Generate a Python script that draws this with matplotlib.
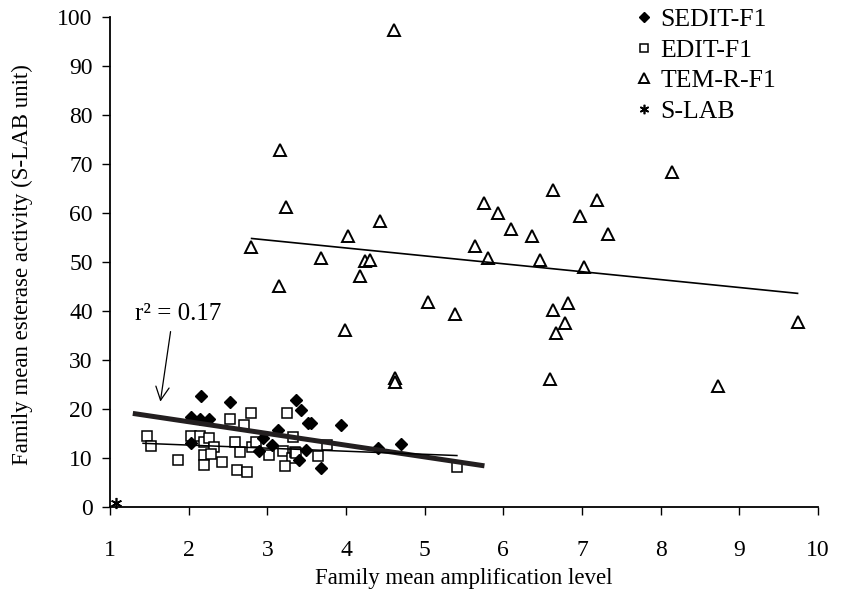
import numpy as np
import matplotlib.pyplot as plt

plt.rcParams["font.family"] = ["Liberation Serif", "DejaVu Serif"]

# ---------- data ----------
sedit_x = [2.16, 2.53, 3.37, 3.43, 3.52, 2.03, 2.15, 2.26, 3.14, 2.95, 3.06, 2.89,
           2.03, 3.40, 3.49, 3.56, 3.94, 3.68, 4.41, 4.70]
sedit_y = [22.7, 21.5, 21.8, 19.8, 17.2, 18.3, 17.9, 17.9, 15.7, 14.0, 12.7, 11.5,
           13.0, 9.6, 11.6, 17.1, 16.7, 7.9, 12.0, 12.9]

edit_x = [1.47, 1.52, 1.87, 2.03, 2.15, 2.19, 2.26, 2.32, 2.19, 2.20, 2.29, 2.43,
          2.53, 2.70, 2.79, 2.59, 2.65, 2.61, 2.74, 2.81, 2.86, 3.02, 3.20, 3.25,
          3.33, 3.31, 3.23, 3.35, 3.37, 3.65, 3.76, 5.41]
edit_y = [14.5, 12.4, 9.6, 14.5, 14.5, 13.3, 14.0, 12.2, 10.6, 8.6, 10.8, 9.2,
          17.9, 16.7, 19.2, 13.3, 11.3, 7.6, 7.2, 12.3, 13.3, 10.6, 11.5, 19.2,
          14.3, 9.9, 8.4, 11.3, 11.1, 10.4, 12.7, 8.1]

temr_x = [4.61, 3.16, 3.24, 4.43, 4.03, 2.79, 3.68, 4.24, 4.31, 4.18, 3.15, 5.75,
          5.93, 6.10, 5.64, 5.80, 5.04, 5.39, 3.99, 8.14, 6.63, 7.19, 6.98, 6.36,
          7.33, 6.46, 7.02, 6.82, 6.63, 6.78, 6.67, 6.59, 8.73, 9.74, 4.62, 4.62]
temr_y = [97.3, 72.9, 61.3, 58.4, 55.4, 53.1, 50.9, 50.2, 50.5, 47.1, 45.2, 62.1,
          60.1, 56.7, 53.3, 50.9, 41.8, 39.3, 36.1, 68.3, 64.7, 62.7, 59.4, 55.4,
          55.7, 50.4, 49.0, 41.6, 40.2, 37.6, 35.6, 26.1, 24.7, 37.8, 26.3, 25.6]

slab_x = [1.08]
slab_y = [0.9]

# trend lines (end points)
sedit_trend_x = [1.29, 5.76]
sedit_trend_y = [19.1, 8.4]
edit_trend_x = [1.42, 5.41]
edit_trend_y = [13.0, 10.5]
temr_trend_x = [2.80, 9.74]
temr_trend_y = [54.8, 43.6]

# r² annotation: text position, arrow start and tip
r2_text = "r² = 0.17"
r2_text_xy = (1.87, 39.3)
r2_arrow_from = (1.77, 35.8)
r2_arrow_to = (1.64, 21.5)

x_ticks = list(range(1, 11))
y_ticks = list(range(0, 101, 10))

# ---------- plotting ----------
fig = plt.figure(figsize=(8.43, 6.05), dpi=100)
ax = fig.add_axes([110 / 843, 98 / 605, 708 / 843, 490 / 605])

ax.plot(sedit_x, sedit_y, linestyle="none", marker="D", markersize=6,
        color="black", label="SEDIT-F1", zorder=3)
ax.plot(edit_x, edit_y, linestyle="none", marker="s", markersize=7.2,
        markerfacecolor="white", markeredgecolor="black", markeredgewidth=1.1,
        label="EDIT-F1", zorder=2)
ax.plot(temr_x, temr_y, linestyle="none", marker="^", markersize=8,
        markerfacecolor="white", markeredgecolor="black", markeredgewidth=1.4,
        label="TEM-R-F1", zorder=3)
ax.plot(slab_x, slab_y, linestyle="none", marker=(6, 2, 0), markersize=8,
        color="black", markeredgewidth=1.2, label="S-LAB", zorder=3,
        clip_on=False)

ax.plot(sedit_trend_x, sedit_trend_y, color="#231f20", lw=3.6, zorder=4,
        solid_capstyle="butt")
ax.plot(edit_trend_x, edit_trend_y, color="black", lw=1.1, zorder=4)
ax.plot(temr_trend_x, temr_trend_y, color="black", lw=1.2, zorder=4)

ax.text(*r2_text_xy, r2_text, fontsize=18, ha="center", va="center")
ax.annotate("", xy=r2_arrow_to, xytext=r2_arrow_from,
            arrowprops=dict(arrowstyle="->", color="black", lw=0.9,
                            mutation_scale=24, shrinkA=0, shrinkB=0))

ax.set_xlim(1, 10)
ax.set_ylim(0, 100)
ax.set_xticks(x_ticks)
ax.set_yticks(y_ticks)
ax.tick_params(axis="both", direction="out", length=5.5, width=1.0,
               labelsize=17)
ax.tick_params(axis="x", pad=18)
ax.tick_params(axis="y", pad=7)
for s in ["top", "right"]:
    ax.spines[s].set_visible(False)
for s in ["left", "bottom"]:
    ax.spines[s].set_linewidth(1.3)

ax.set_xlabel("Family mean amplification level", fontsize=16.5)
ax.set_ylabel("Family mean esterase activity (S-LAB unit)", fontsize=16.5)
ax.xaxis.set_label_coords(0.5, -0.145)
ax.xaxis.label.set_va("center")
ax.yaxis.set_label_coords(-0.124, 0.494)
ax.yaxis.label.set_va("center")

ax.legend(loc="upper left", bbox_to_anchor=(634 / 843, 1 - 8 / 605),
          bbox_transform=fig.transFigure, frameon=False, borderpad=0,
          borderaxespad=0, fontsize=18.5, handletextpad=0.22,
          handlelength=0.8, labelspacing=0.3, markerscale=0.85)

plt.savefig("out.png", dpi=100)
